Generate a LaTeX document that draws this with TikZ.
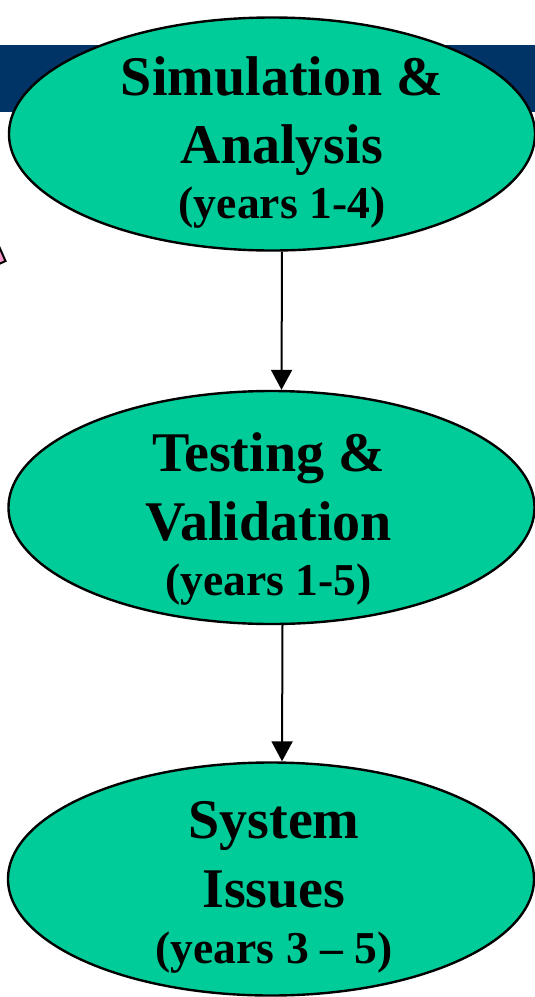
\documentclass[tikz,border=0pt]{standalone}
\usepackage{fontspec}
\setmainfont{Liberation Serif}
\usetikzlibrary{arrows.meta,shapes.geometric}
\definecolor{phase}{RGB}{0,204,153}
\definecolor{banner}{RGB}{0,51,102}
\definecolor{pinkish}{RGB}{255,153,204}
\tikzset{
  phasebox/.style={ellipse, draw=black, fill=phase, line width=1.2pt,
    minimum width=263pt, minimum height=116.5pt, inner sep=0pt},
  headline/.style={anchor=base, inner sep=0pt,
    font=\bfseries\fontsize{28}{30}\selectfont},
  yearline/.style={anchor=base, inner sep=0pt,
    font=\bfseries\fontsize{22.8}{26}\selectfont},
  flow/.style={line width=1pt, -{Triangle[length=10pt,width=10.5pt]}}
}
\begin{document}
\begin{tikzpicture}[x=0.5pt,y=-0.5pt]
  \useasboundingbox (0,0) rectangle (535,997);
  % title banner and the tip of the pink shape at the left border
  \fill[banner] (0,45) rectangle (535,112);
  \filldraw[fill=pinkish, draw=black, line width=1pt] (-2,244) -- (5.5,261) -- (-2,264.5);

  % the three phases
  \node[phasebox] (sim)  at (272,134)     {};
  \node[phasebox] (test) at (271.5,507.5) {};
  \node[phasebox] (sys)  at (271,879)     {};

  \node[headline] (simA) at ([xshift=5pt,yshift=39*0.5pt]sim.center)  {Simulation \&};
  \node[headline] (simB) at ([xshift=5pt,yshift=-29*0.5pt]sim.center) {Analysis};
  \node[yearline] (simC) at ([xshift=5pt,yshift=-84*0.5pt]sim.center) {(years 1-4)};

  \node[headline] (testA) at ([xshift=-1.5pt,yshift=36.5*0.5pt]test.center)  {Testing \&};
  \node[headline] (testB) at ([xshift=-1.5pt,yshift=-32.5*0.5pt]test.center) {Validation};
  \node[yearline] (testC) at ([xshift=-1.5pt,yshift=-87.5*0.5pt]test.center) {(years 1-5)};

  \node[headline] (sysA) at ([xshift=1.5pt,yshift=41*0.5pt]sys.center)  {System};
  \node[headline] (sysB) at ([xshift=1.5pt,yshift=-28*0.5pt]sys.center) {Issues};
  \node[yearline] (sysC) at ([xshift=1.5pt,yshift=-84*0.5pt]sys.center) {(years 3 -- 5)};

  % connectors
  \draw[flow] ([xshift=5pt]sim.south) -- ([xshift=5pt]test.north);
  \draw[flow] ([xshift=5.5pt]test.south) -- ([xshift=5.5pt]sys.north);
\end{tikzpicture}
\end{document}
